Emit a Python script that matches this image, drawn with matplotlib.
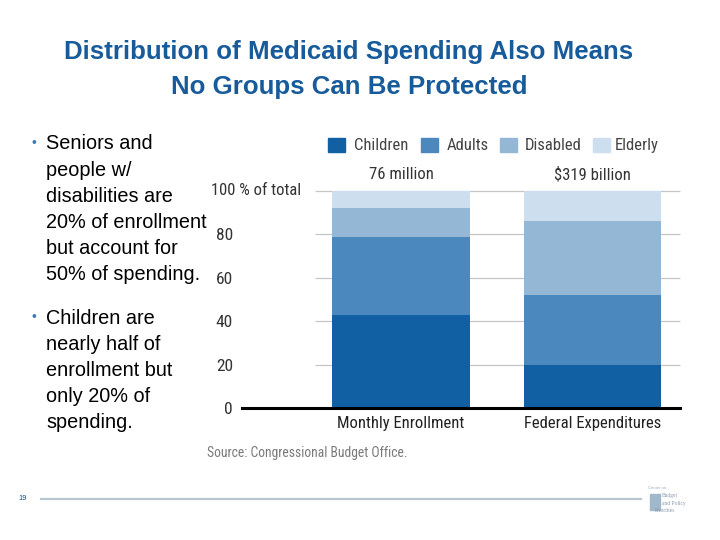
"""
Medicaid spending distribution slide
"""

# imports
import matplotlib
matplotlib.use("Agg")
import matplotlib.pyplot as plt
from matplotlib.patches import Rectangle

# data
groups = ["Children", "Adults", "Disabled", "Elderly"]
bar_names = ["Monthly Enrollment", "Federal Expenditures"]
bar_totals = ["76 million", "\\$319 billion"]
enrollment = [43, 36, 13, 8]
expenditures = [20, 32, 34, 14]
yticks = [0, 20, 40, 60, 80]
colors = ["#1160a4", "#4a88bd", "#93b7d5", "#cddeee"]

title_lines = ["Distribution of Medicaid Spending Also Means",
               "No Groups Can Be Protected"]
bullet_1 = ["Seniors and", "people w/", "disabilities are",
            "20% of enrollment", "but account for", "50% of spending."]
bullet_2 = ["Children are", "nearly half of", "enrollment but",
            "only 20% of", "spending."]

W, H = 720, 540
chart_font = ["Roboto Condensed", "DejaVu Sans Condensed", "Roboto"]
text_font = ["Liberation Sans", "DejaVu Sans"]
cfs = 12


def fx(x):
    return x / W


def fy(y):
    return 1 - y / H


fig = plt.figure(figsize=(7.2, 5.4), dpi=100)

# title
for i, line in enumerate(title_lines):
    fig.text(fx(349), fy(52 + 35 * i), line, ha="center", va="center",
             fontsize=18.6, fontweight="bold", color="#175b9b", family=text_font)

# bullet text
for block, y0 in [(bullet_1, 144), (bullet_2, 318)]:
    fig.text(fx(34), fy(y0 - 1), "\u2022", ha="center", va="center",
             fontsize=10, color="#3b7bb2", family=text_font)
    for i, line in enumerate(block):
        fig.text(fx(46), fy(y0 + 26 * i), line, ha="left", va="center",
                 fontsize=14.3, color="black", family=text_font)

# chart axis
ax = fig.add_axes([fx(242), fy(408), 438 / W, 217 / H])
data = [enrollment, expenditures]
x = [0, 1]
bottoms = [0, 0]
for g, grp in enumerate(groups):
    vals = [d[g] for d in data]
    ax.bar(x, vals, bottom=bottoms, width=0.72, color=colors[g],
           label=grp, zorder=2)
    bottoms = [b + v for b, v in zip(bottoms, vals)]

ax.set_xlim(-0.83, 1.457)
ax.set_ylim(0, 100)

# gridlines start right of the tick labels
ax.hlines([20, 40, 60, 80, 100], xmin=-0.449, xmax=1.457, colors="#c6c6c6",
          lw=0.9, zorder=1, clip_on=False)
ax.axhline(0, color="black", lw=2.2, zorder=3, clip_on=False)

for s in ax.spines.values():
    s.set_visible(False)

ax.set_yticks(yticks)
ax.set_yticklabels([str(t) for t in yticks], family=chart_font,
                   fontsize=cfs + 0.5, color="#333333")
ax.set_xticks(x)
ax.set_xticklabels(bar_names, family=chart_font, fontsize=cfs,
                   color="#222222")
ax.tick_params(axis="y", length=0, pad=6.5)
ax.tick_params(axis="x", length=0, pad=6)

# totals above bars
for i, t in enumerate(bar_totals):
    ax.text(x[i], 107.4, t, ha="center", va="center", family=chart_font,
            fontsize=cfs, color="#333333", clip_on=False)

fig.text(fx(211), fy(191), "100 % of total", ha="left", va="center",
         family=chart_font, fontsize=cfs, color="#333333")

# legend
sq_x = [328, 421, 500, 593]
lab_x = [354, 447, 525, 615]
for g, grp in enumerate(groups):
    fig.add_artist(Rectangle((fx(sq_x[g]), fy(152)), 17 / W, 14 / H,
                             transform=fig.transFigure, color=colors[g]))
    fig.text(fx(lab_x[g]), fy(145), grp, ha="left", va="center",
             family=chart_font, fontsize=cfs, color="#444444")

# source
fig.text(fx(207), fy(453), "Source: Congressional Budget Office.",
         ha="left", va="center", family=chart_font, fontsize=9.8,
         color="#7a7a7a")

# footer
fig.text(fx(23), fy(499), "19", ha="center", va="center", fontsize=5.5,
         color="#1f4f7f", family=text_font)
fig.add_artist(plt.Line2D([fx(41), fx(641)], [fy(499), fy(499)],
                          color="#b8c8d0", lw=1.6))
fig.add_artist(Rectangle((fx(650), fy(510)), 10 / W, 16 / H,
                         transform=fig.transFigure, color="#9fb8cc"))
fig.text(fx(648), fy(488), "Center on", fontsize=3, color="#9aaab8",
         ha="left", va="center", family=text_font)
for i, w in enumerate(["Budget", "and Policy", "Priorities"]):
    fig.text(fx(662) if i < 2 else fx(655), fy(496 + 7 * i), w, fontsize=4,
             color="#8a9aab", ha="left", va="center", family="Liberation Serif")

fig.savefig("out.png", dpi=100)
